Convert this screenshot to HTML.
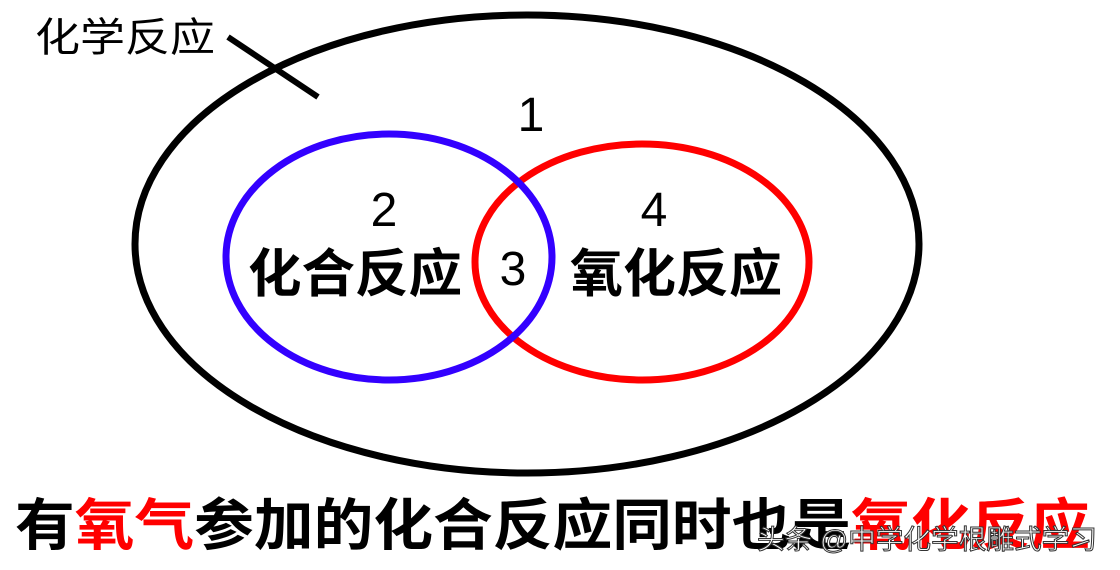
<!DOCTYPE html>
<html><head><meta charset="utf-8"><style>
html,body{margin:0;padding:0;background:#fff;width:1120px;height:570px;overflow:hidden}
svg{display:block}
text{font-family:"Liberation Sans","Noto Sans CJK SC",sans-serif}
</style></head><body>
<svg width="1120" height="570" viewBox="0 0 1120 570">
<ellipse cx="527" cy="244" rx="392" ry="229" fill="none" stroke="#000" stroke-width="7"/>
<line x1="228" y1="37" x2="318" y2="97" stroke="#000" stroke-width="6"/>
<ellipse cx="642" cy="262" rx="167" ry="118" fill="none" stroke="#ff0000" stroke-width="7"/>
<ellipse cx="389" cy="257" rx="163" ry="123" fill="none" stroke="#3300ff" stroke-width="7"/>
<text x="35" y="51" font-size="40" textLength="180" lengthAdjust="spacingAndGlyphs">化学反应</text>
<text x="531" y="131" font-size="48" text-anchor="middle">1</text>
<text x="384" y="226" font-size="48" text-anchor="middle">2</text>
<text x="654" y="226" font-size="48" text-anchor="middle">4</text>
<text x="513" y="285" font-size="48" text-anchor="middle">3</text>
<text x="248" y="292" font-size="52" font-weight="bold" textLength="214" lengthAdjust="spacingAndGlyphs">化合反应</text>
<text x="570" y="292" font-size="52" font-weight="bold" textLength="212" lengthAdjust="spacingAndGlyphs">氧化反应</text>
<text x="15" y="545" font-size="56" font-weight="bold" textLength="1075" lengthAdjust="spacingAndGlyphs">有<tspan fill="#ff0000">氧气</tspan>参加的化合反应同时也是<tspan fill="#ff0000">氧化反应</tspan></text>
<text x="757" y="549" font-size="27" fill="#fff" stroke="#333" stroke-width="1" textLength="340" lengthAdjust="spacingAndGlyphs">头条 @中学化学根雕式学习</text>
</svg>
</body></html>
